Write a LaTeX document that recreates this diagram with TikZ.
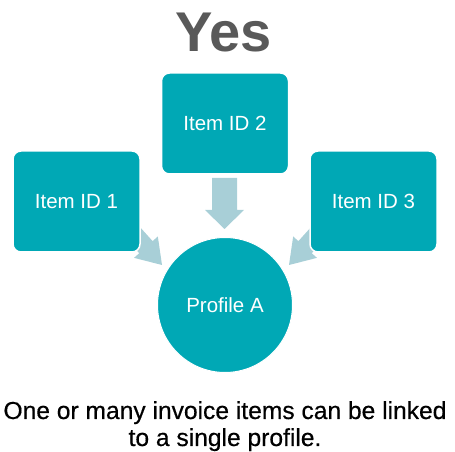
\documentclass[tikz,border=0pt]{standalone}
\usepackage{fontspec}
\setmainfont{Liberation Sans}
\newfontfamily\captionfont[FakeBold=0.5]{Liberation Sans}
\usetikzlibrary{calc}
\definecolor{teal1}{HTML}{00A8B5}
\definecolor{arrowc}{HTML}{A8CFD7}
\definecolor{titlec}{HTML}{595959}
\tikzset{
  itembox/.style={rectangle, rounded corners=8pt, fill=teal1, draw=white, line width=1.5pt,
    minimum width=127pt, minimum height=101pt, text=white, font=\fontsize{20.5}{24}\selectfont, inner sep=0pt},
  profile/.style={circle, fill=teal1, draw=white, line width=1pt, minimum size=135pt, text=white,
    font=\fontsize{20.5}{24}\selectfont, inner sep=0pt},
  blockarrow/.style={fill=arrowc, draw=none},
  captext/.style={anchor=base, font=\captionfont\fontsize{24.6}{28}\selectfont}
}
\begin{document}
\begin{tikzpicture}[x=1pt,y=1pt]
\useasboundingbox (0,0) rectangle (455,452);
% title
\node[anchor=base, text=titlec, font=\fontsize{56}{60}\selectfont\bfseries] (title) at (223.5,400) {Yes};
% profile circle
\node[profile] (p) at (225,147) {Profile A};
% tip coordinates
\coordinate (t2) at ($(p.center)+(-0.5,76)$);
\coordinate (t1) at ($(p.center)+(-63,40)$);
\coordinate (t3) at ($(p.center)+(64,40)$);
% arrows (drawn beneath boxes)
\begin{scope}[shift={(t2)}]
  \fill[blockarrow] (0,0) -- (-19.5,19) -- (-12.5,19) -- (-12.5,51) -- (12.5,51) -- (12.5,19) -- (19.5,19) -- cycle;
\end{scope}
\begin{scope}[shift={(t1)}, rotate=42]
  \fill[blockarrow] (0,0) -- (-16,24) -- (-9,24) -- (-9,55) -- (9,55) -- (9,24) -- (16,24) -- cycle;
\end{scope}
\begin{scope}[shift={(t3)}, rotate=-42]
  \fill[blockarrow] (0,0) -- (-16,24) -- (-9,24) -- (-9,55) -- (9,55) -- (9,24) -- (16,24) -- cycle;
\end{scope}
% boxes
\node[itembox] (i1) at (76.5,250.5) {Item ID 1};
\node[itembox] (i2) at (225,328.5) {Item ID 2};
\node[itembox] (i3) at (373.5,250.5) {Item ID 3};
% caption
\node[captext] (c1) at (225,33) {One or many invoice items can be linked};
\node[captext] (c2) at (225,6) {to a single profile.};
\end{tikzpicture}
\end{document}
